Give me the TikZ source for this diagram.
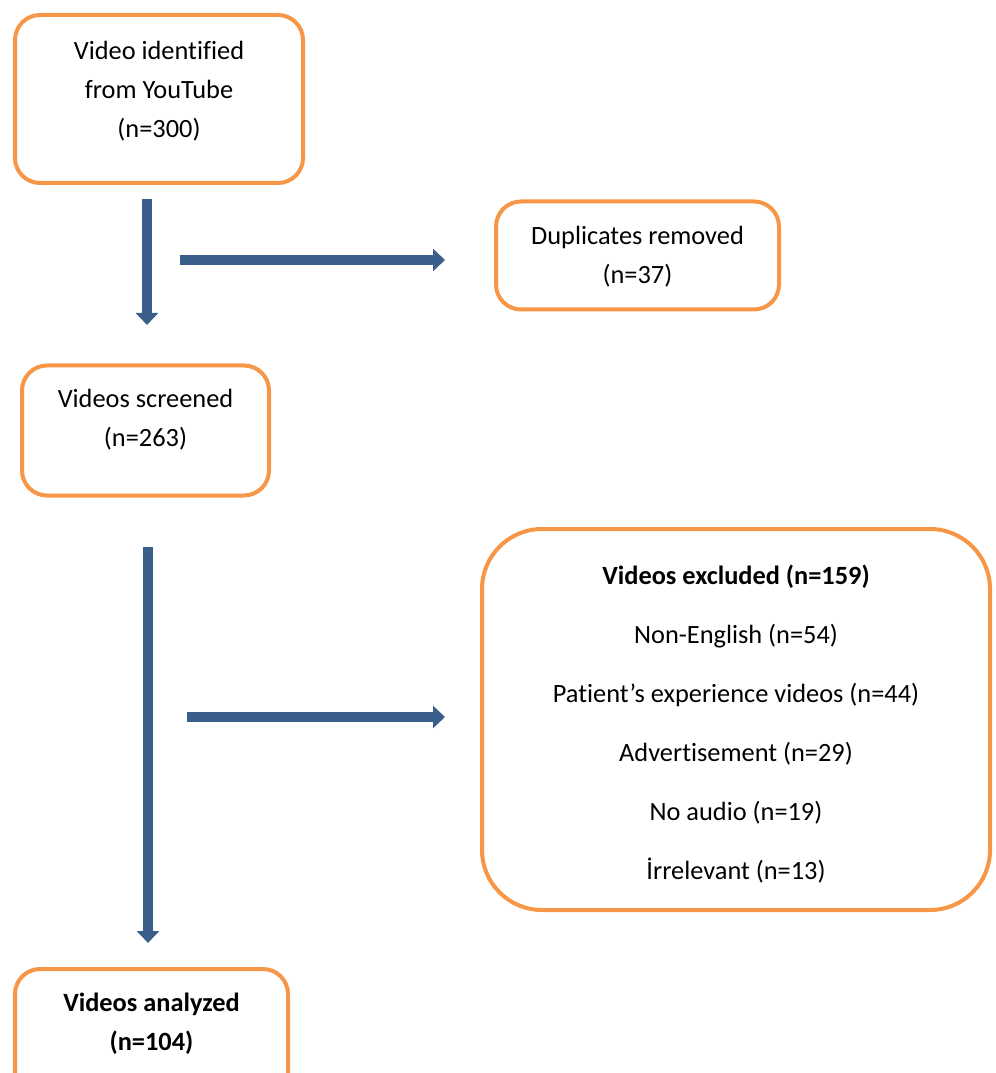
\documentclass[tikz,border=0pt]{standalone}
\usepackage{fontspec}
\setmainfont[Ligatures=CommonOff]{Carlito}
\usepackage{tikz}
\usetikzlibrary{arrows.meta,positioning,shapes}
\usepackage{xcolor}
\definecolor{boxorange}{HTML}{F79646}
\definecolor{arrowblue}{HTML}{3A5F8B}

\begin{document}
\begin{tikzpicture}[
    box/.style={draw=boxorange, line width=0.08cm, rounded corners=0.5cm, fill=white},
    txt/.style={align=center, font=\fontsize{15}{22.2}\selectfont},
    bigarrow/.style={draw=arrowblue, line width=0.2cm, -{Triangle[width=0.44cm,length=0.24cm]}}
]
\useasboundingbox (0,0) rectangle (19.9,-21.46);

% boxes
\node[box, minimum width=5.76cm, minimum height=3.36cm] (video) at (3.18,-1.98) {};
\node[box, minimum width=5.66cm, minimum height=2.16cm] (dupl) at (12.75,-5.11) {};
\node[box, minimum width=4.94cm, minimum height=2.6cm] (screen) at (2.91,-8.61) {};
\node[box, rounded corners=1.2cm, minimum width=10.16cm, minimum height=7.62cm] (excl) at (14.72,-14.39) {};
\node[box, minimum width=5.46cm, minimum height=2.6cm] (anal) at (3.03,-20.68) {};

% texte
\node[txt] (video-txt) at (3.18,-1.82) {Video identified\\from YouTube\\(n=300)};
\node[txt] (dupl-txt) at (12.75,-5.13) {Duplicates removed\\(n=37)};
\node[txt] (screen-txt) at (2.91,-8.39) {Videos screened\\(n=263)};
\node[txt, font=\fontsize{15}{33.5}\selectfont] (excl-txt) at (14.72,-14.48) {\textbf{Videos excluded (n=159)}\\Non-English (n=54)\\Patient’s experience videos (n=44)\\Advertisement (n=29)\\No audio (n=19)\\İrrelevant (n=13)};
\node[txt] (anal-txt) at (3.03,-20.47) {\textbf{Videos analyzed}\\\textbf{(n=104)}};

% arrows
\coordinate (a1-start) at (2.94,-3.98);
\coordinate (a1-end) at (2.94,-6.50);
\coordinate (a2-start) at (3.60,-5.20);
\coordinate (a2-end) at (8.90,-5.20);
\coordinate (a3-start) at (2.96,-10.94);
\coordinate (a3-end) at (2.96,-18.86);
\coordinate (a4-start) at (3.74,-14.34);
\coordinate (a4-end) at (8.90,-14.34);
\draw[bigarrow] (a1-start) -- (a1-end);
\draw[bigarrow] (a2-start) -- (a2-end);
\draw[bigarrow] (a3-start) -- (a3-end);
\draw[bigarrow] (a4-start) -- (a4-end);

\end{tikzpicture}
\end{document}
